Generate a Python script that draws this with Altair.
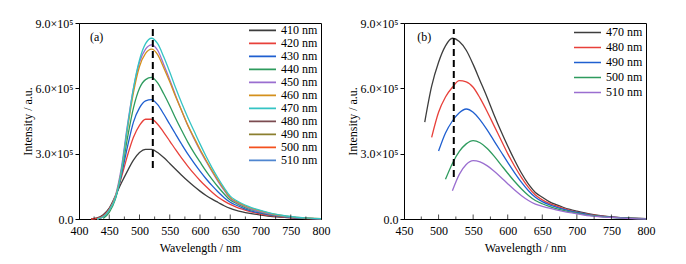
import altair as alt
import pandas as pd

FONT = "Liberation Serif, Times New Roman, serif"
FS = 12

# common wavelength grid (nm)
GRID = [420, 430, 440, 450, 460, 470, 480, 490, 500, 510, 520, 530, 540, 550, 560,
        570, 580, 590, 600, 610, 620, 630, 640, 650, 660, 670, 680, 690, 700,
        720, 740, 760, 780, 800]

# ---- panel (a): intensity in units of 1e5 (None = not measured) ----
A410 = [0.0, 0.05, 0.2, 0.5, 1.05, 1.65, 2.2, 2.7, 3.05, 3.2, 3.2, 3.05, 2.82, 2.55, 2.27,
        2.0, 1.74, 1.5, 1.28, 1.08, 0.91, 0.76, 0.61, 0.49, 0.4, 0.33, 0.27, 0.22, 0.18,
        0.11, 0.07, 0.04, 0.02, 0.01]
A420 = [0.0, 0.03, 0.15, 0.45, 1.0, 1.9, 2.9, 3.75, 4.3, 4.58, 4.58, 4.35, 3.98, 3.58, 3.17,
        2.78, 2.42, 2.08, 1.77, 1.49, 1.23, 1.0, 0.82, 0.67, 0.55, 0.45, 0.36, 0.29, 0.23,
        0.14, 0.08, 0.04, 0.02, 0.01]
A430 = [None, 0.0, 0.1, 0.4, 0.95, 2.0, 3.3, 4.45, 5.1, 5.42, 5.48, 5.25, 4.82, 4.35, 3.88,
        3.42, 2.98, 2.58, 2.2, 1.85, 1.53, 1.24, 0.98, 0.77, 0.63, 0.51, 0.41, 0.33, 0.27,
        0.17, 0.1, 0.05, 0.03, 0.01]
A440 = [None, None, 0.03, 0.3, 0.9, 2.1, 3.7, 5.1, 6.0, 6.4, 6.5, 6.25, 5.75, 5.2, 4.6,
        4.05, 3.52, 3.05, 2.62, 2.2, 1.82, 1.47, 1.15, 0.87, 0.72, 0.58, 0.47, 0.38, 0.31,
        0.19, 0.11, 0.06, 0.03, 0.01]
A450 = [None, 0.0, 0.1, 0.42, 1.05, 2.35, 4.3, 6.0, 7.2, 7.8, 8.0, 7.75, 7.1, 6.4, 5.65,
        4.95, 4.28, 3.7, 3.15, 2.65, 2.17, 1.72, 1.31, 0.95, 0.76, 0.62, 0.5, 0.41, 0.33,
        0.2, 0.12, 0.06, 0.03, 0.01]
A460 = [None, 0.0, 0.1, 0.4, 1.0, 2.2, 4.1, 5.8, 7.0, 7.6, 7.8, 7.55, 6.95, 6.3, 5.6,
        4.95, 4.3, 3.75, 3.2, 2.7, 2.22, 1.77, 1.36, 0.98, 0.8, 0.66, 0.54, 0.45, 0.37,
        0.23, 0.14, 0.07, 0.04, 0.02]
A470 = [None, 0.0, 0.1, 0.4, 0.95, 2.2, 4.2, 6.0, 7.3, 8.05, 8.3, 8.05, 7.45, 6.75, 6.0,
        5.3, 4.65, 4.05, 3.45, 2.88, 2.35, 1.87, 1.43, 1.05, 0.85, 0.7, 0.58, 0.48, 0.4,
        0.25, 0.15, 0.08, 0.04, 0.02]

A_LABELS = ["410 nm", "420 nm", "430 nm", "440 nm", "450 nm", "460 nm", "470 nm",
            "480 nm", "490 nm", "500 nm", "510 nm"]
A_COLORS = ["#3d3d3d", "#e8403a", "#1f5fd0", "#2e9b5e", "#9a6ed0", "#d4901c", "#35c4c4",
            "#7b4b50", "#8b7f2e", "#f4511e", "#4f86d0"]
A_SERIES = [A410, A420, A430, A440, A450, A460, A470]

# ---- panel (b) ----
B470 = [None, None, None, None, None, None, 4.45, 6.1, 7.2, 7.95, 8.3, 8.15, 7.75, 7.1, 6.35,
        5.6, 4.8, 4.05, 3.35, 2.7, 2.1, 1.6, 1.22, 1.0, 0.8, 0.66, 0.54, 0.44, 0.36,
        0.22, 0.13, 0.07, 0.04, 0.02]
B480 = [None, None, None, None, None, None, None, 3.75, 4.9, 5.6, 6.05, 6.35, 6.3, 6.05, 5.55,
        4.95, 4.3, 3.65, 3.0, 2.42, 1.9, 1.45, 1.1, 0.88, 0.72, 0.6, 0.49, 0.4, 0.32,
        0.2, 0.12, 0.06, 0.03, 0.01]
B490 = [None, None, None, None, None, None, None, None, 3.12, 3.95, 4.5, 4.88, 5.05, 4.9, 4.55,
        4.1, 3.6, 3.1, 2.6, 2.12, 1.68, 1.3, 1.0, 0.8, 0.66, 0.55, 0.45, 0.37, 0.3,
        0.18, 0.11, 0.06, 0.03, 0.01]
B500 = [None, None, None, None, None, None, None, None, None, 1.82, 2.55, 3.1, 3.45, 3.6, 3.5,
        3.25, 2.9, 2.5, 2.1, 1.72, 1.38, 1.08, 0.85, 0.7, 0.58, 0.48, 0.4, 0.33, 0.27,
        0.16, 0.1, 0.05, 0.03, 0.01]
B510 = [None, None, None, None, None, None, None, None, None, None, 1.3, 2.05, 2.5, 2.68, 2.62,
        2.45, 2.2, 1.92, 1.62, 1.33, 1.07, 0.85, 0.68, 0.58, 0.5, 0.42, 0.35, 0.29, 0.24,
        0.14, 0.09, 0.05, 0.02, 0.01]

B_LABELS = ["470 nm", "480 nm", "490 nm", "500 nm", "510 nm"]
B_COLORS = ["#3d3d3d", "#e8403a", "#1f5fd0", "#2e9b5e", "#9a6ed0"]
B_SERIES = [B470, B480, B490, B500, B510]

PEAK_WL = 522
DASH_A = [2.34e5, 8.72e5]
DASH_B = [1.93e5, 8.72e5]

MAJOR_A = [450, 500, 550, 600, 650, 700, 750]
MINOR_A = [425, 475, 525, 575, 625, 675, 725, 775]
MAJOR_B = [500, 550, 600, 650, 700, 750]
MINOR_B = [475, 525, 575, 625, 675, 725, 775]


def long_df(labels, series):
    rows = []
    for k, (lab, vals) in enumerate(zip(labels, series)):
        for wl, v in zip(GRID, vals):
            if v is not None:
                rows.append({"wl": wl, "I": v * 1e5, "series": lab, "k": k})
    return pd.DataFrame(rows)


YLABEL = "datum.value == 0 ? '0.0' : format(datum.value / 1e5, '.1f') + '×10⁵'"


def panel(labels, colors, series, xdom, xvals, major, minor, dash, tag, tag_x,
          row_h, leg_y):
    df = long_df(labels, series)
    xs = alt.Scale(domain=xdom, nice=False, zero=False)
    ys = alt.Scale(domain=[0, 9e5], nice=False)
    xax = alt.Axis(values=xvals, title="Wavelength / nm", ticks=False,
                   grid=False, labelPadding=6, format="d", titlePadding=6,
                   labelOverlap=False, labelFlush=False)
    yax = alt.Axis(values=[0, 3e5, 6e5, 9e5], labelExpr=YLABEL,
                   title="Intensity / a.u.", grid=False, tickSize=4,
                   labelPadding=2, labelOverlap=False, labelFlush=False,
                   titlePadding=1)
    x = alt.X("wl:Q", scale=xs, axis=xax)
    y = alt.Y("I:Q", scale=ys, axis=yax)
    lines = alt.Chart(df).mark_line(interpolate="monotone", strokeWidth=1.3).encode(
        x=x, y=y,
        color=alt.Color("series:N",
                        scale=alt.Scale(domain=labels, range=colors),
                        sort=labels,
                        legend=alt.Legend(title=None, orient="none", legendX=169,
                                          legendY=leg_y, symbolType="stroke",
                                          symbolSize=729, symbolStrokeWidth=1.6,
                                          labelFont=FONT, labelFontSize=FS,
                                          labelColor="black", labelOffset=4,
                                          rowPadding=0, clipHeight=row_h)),
        order="k:Q",
    )
    tmaj = alt.Chart(pd.DataFrame({"wl": major, "I": [0] * len(major)})).mark_tick(
        orient="vertical", size=9, thickness=1, color="black", clip=True
    ).encode(x=x, y=y)
    tmin = alt.Chart(pd.DataFrame({"wl": minor, "I": [0] * len(minor)})).mark_tick(
        orient="vertical", size=5, thickness=1, color="black", clip=True
    ).encode(x=x, y=y)
    rule = alt.Chart(pd.DataFrame({"wl": [PEAK_WL], "I": [dash[0]], "I2": [dash[1]]})).mark_rule(
        strokeDash=[7, 4], strokeWidth=2, color="black"
    ).encode(x=x, y=y, y2="I2:Q")
    txt = alt.Chart(pd.DataFrame({"wl": [tag_x], "I": [8.36e5], "t": [tag]})).mark_text(
        align="left", baseline="middle", font=FONT, fontSize=FS, color="black"
    ).encode(x=x, y=y, text="t:N")
    return alt.layer(lines, tmaj, tmin, rule, txt).properties(width=242, height=196)


pa = panel(A_LABELS, A_COLORS, A_SERIES, [400, 800],
           [400, 450, 500, 550, 600, 650, 700, 750, 800], MAJOR_A, MINOR_A, DASH_A,
           "(a)", 418, 12.7, 1)
pb = panel(B_LABELS, B_COLORS, B_SERIES, [450, 800],
           [450, 500, 550, 600, 650, 700, 750, 800], MAJOR_B, MINOR_B, DASH_B,
           "(b)", 469, 14.9, 2)

chart = alt.hconcat(pa, pb, spacing=83, bounds="flush").resolve_scale(
    color="independent", x="independent"
).configure_view(stroke="black", strokeWidth=1).configure_axis(
    labelFont=FONT, titleFont=FONT, labelFontSize=FS, titleFontSize=FS,
    labelColor="black", titleColor="black", titleFontWeight="normal",
    domainColor="black", tickColor="black", domainWidth=1
).configure_text(font=FONT).properties(
    padding={"left": 12, "top": 8, "right": 5, "bottom": 5}, background="white")

chart.save("out.html", embed_options={"renderer": "svg", "actions": False})
